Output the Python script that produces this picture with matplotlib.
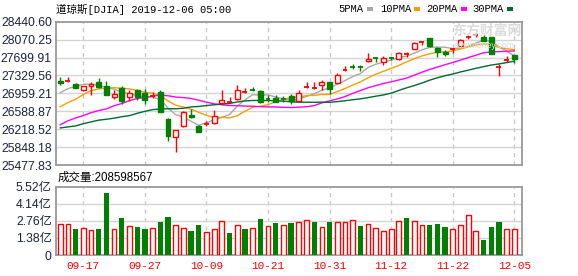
import matplotlib
matplotlib.use('Agg')
import matplotlib.pyplot as plt
import numpy as np
from matplotlib.patches import Rectangle

# ---------------- data ----------------
dates = ['09-12', '09-13', '09-16', '09-17', '09-18', '09-19', '09-20', '09-23', '09-24', '09-25',
         '09-26', '09-27', '09-30', '10-01', '10-02', '10-03', '10-04', '10-07', '10-08', '10-09',
         '10-10', '10-11', '10-14', '10-15', '10-16', '10-17', '10-18', '10-21', '10-22', '10-23',
         '10-24', '10-25', '10-28', '10-29', '10-30', '10-31', '11-01', '11-04', '11-05', '11-06',
         '11-07', '11-08', '11-11', '11-12', '11-13', '11-14', '11-15', '11-18', '11-19', '11-20',
         '11-21', '11-22', '11-25', '11-26', '11-27', '11-29', '12-02', '12-03', '12-04', '12-05']

opens = [27215, 27210, 27150, 27030, 27110, 27199, 27103, 26880, 27069, 26884,
         27021, 26960, 26895, 26980, 26438, 26060, 26290, 26505, 26294, 26325,
         26349, 26755, 26775, 26845, 26990, 27045, 27014, 26840, 26870, 26845,
         26897, 26808, 27080, 27060, 27131, 27192, 27172, 27440, 27505, 27505,
         27618, 27692, 27604, 27700, 27666, 27775, 27878, 28025, 28095, 27892,
         27812, 27860, 27947, 28110, 28155, 28132, 28118, 27490, 27640, 27748]
highs = [27306, 27290, 27180, 27120, 27190, 27275, 27220, 27020, 27103, 27035,
         27050, 27040, 26990, 27030, 26445, 26210, 26590, 26640, 26310, 26385,
         26623, 27035, 26880, 27130, 27060, 27100, 27035, 26920, 26925, 26910,
         26950, 27035, 27186, 27186, 27240, 27200, 27378, 27515, 27560, 27550,
         27789, 27700, 27740, 27705, 27815, 27815, 28020, 28040, 28110, 27910,
         27850, 27905, 28090, 28165, 28215, 28165, 28132, 27560, 27735, 27755]
lows = [27125, 27200, 27060, 27010, 26915, 27080, 26930, 26850, 26740, 26800,
        26820, 26740, 26860, 26565, 25974, 25743, 26270, 26440, 26150, 26280,
        26330, 26745, 26770, 26830, 26970, 27000, 26760, 26790, 26780, 26775,
        26745, 26795, 27075, 27055, 27035, 26955, 27165, 27430, 27460, 27430,
        27610, 27600, 27550, 27640, 27650, 27720, 27870, 27960, 27915, 27710,
        27740, 27790, 27940, 28080, 28120, 28040, 27775, 27325, 27600, 27597]
closes = [27182.45, 27219.52, 27076.82, 27110.80, 27147.08, 27094.79, 26935.07, 26949.99, 26807.77, 26970.71,
          26891.12, 26820.25, 26916.83, 26573.04, 26078.62, 26201.04, 26573.72, 26478.02, 26164.04, 26346.01,
          26496.67, 26816.59, 26787.36, 27024.80, 26999.92, 27025.88, 26770.20, 26827.64, 26788.10, 26833.95,
          26805.53, 26958.06, 27090.72, 27071.42, 27186.69, 27046.23, 27347.36, 27462.11, 27492.63, 27492.56,
          27674.80, 27681.24, 27691.49, 27691.49, 27783.59, 27781.96, 28004.89, 28036.22, 27934.02, 27821.09,
          27766.29, 27875.62, 28066.47, 28121.68, 28164.00, 28051.41, 27783.04, 27502.81, 27649.78, 27677.79]

# closes of the 29 sessions before the window (needed for the moving averages)
prior_closes = [26583.42, 26485.01, 25717.74, 26029.52, 26007.07, 26378.19, 26287.44, 25896.44, 26279.91,
                25479.42, 25579.39, 25886.01, 26135.79, 25962.44, 26202.73, 26252.24, 25628.90, 25898.83,
                25777.90, 26036.10, 26362.25, 26403.28, 26118.02, 26355.47, 26728.15, 26797.46, 26835.51,
                26909.43, 27137.04]

# volume in units of 1e8 (亿)
volumes = [2.52, 2.52, 2.13, 2.21, 2.05, 2.13, 5.05, 2.13, 3.02, 2.37,
           2.29, 2.13, 2.21, 2.68, 3.08, 2.45, 2.21, 1.97, 2.45, 1.89,
           2.13, 2.76, 1.76, 2.45, 2.13, 2.21, 2.92, 2.37, 2.60, 2.45,
           2.55, 2.66, 2.81, 2.68, 2.29, 2.68, 2.66, 2.66, 2.81, 2.37,
           2.52, 2.18, 1.95, 2.10, 2.73, 3.00, 2.73, 2.45, 2.45, 2.52,
           2.29, 2.10, 2.45, 3.23, 1.95, 1.18, 2.29, 2.68, 2.10, 2.086]
vol_up = [1, 1, 0, 1, 1, 0, 0, 1, 0, 1,
          0, 0, 1, 0, 0, 1, 1, 0, 0, 1,
          1, 1, 0, 1, 0, 1, 0, 1, 0, 1,
          0, 1, 1, 0, 1, 0, 1, 1, 1, 0,
          1, 1, 1, 1, 1, 0, 1, 1, 0, 0,
          0, 1, 1, 1, 1, 0, 0, 0, 1, 1]

ma_periods = [5, 10, 20, 30]
ma_names = ['5PMA', '10PMA', '20PMA', '30PMA']
ma_colors = ['#a8a8a8', '#f5a000', '#ff00ff', '#006a30']

price_ticks = [25477.83, 25848.18, 26218.52, 26588.87, 26959.21, 27329.56, 27699.91, 28070.25, 28440.60]
vol_ticks = [0, 1.38, 2.76, 4.14, 5.52]
vol_tick_labels = ['0', '1.38亿', '2.76亿', '4.14亿', '5.52亿']
date_tick_idx = [3, 11, 19, 27, 35, 43, 51, 59]

title_text = '道琼斯[DJIA] 2019-12-06 05:00'
vol_title = '成交量:208598567'

# ---------------- figure ----------------
W, H = 578, 276
fig = plt.figure(figsize=(W / 100, H / 100), dpi=100)
fig.patch.set_facecolor('white')

RED = '#ff0000'
GREEN = '#008000'
GRID = '#d4d4d4'
SPINE = '#999999'
TXT = '#1c2340'


def px_axes(l, t, r, b):
    return fig.add_axes([l / W, 1 - b / H, (r - l) / W, (b - t) / H])


axp = px_axes(56, 21.7, 522, 165)
axv = px_axes(56, 186.7, 522, 255)

n = len(closes)
x = np.arange(n)
xlim = (-0.55, 60.0)

for ax in (axp, axv):
    ax.set_xlim(*xlim)
    for s in ax.spines.values():
        s.set_color(SPINE)
        s.set_linewidth(1.3)
    ax.set_xticks([])
    for i in date_tick_idx:
        ax.axvline(i, color='#c8c8c8', lw=1, ls=(0, (3, 3)), zorder=0)

# price panel
axp.set_ylim(price_ticks[0], price_ticks[-1])
axp.set_yticks(price_ticks)
axp.set_yticklabels(['%.2f' % v for v in price_ticks])
for v in price_ticks[1:-1]:
    axp.axhline(v, color=GRID, lw=1, zorder=0)
axp.tick_params(axis='y', length=0, pad=3, labelsize=8.8, labelcolor=TXT)
for lab in axp.get_yticklabels():
    lab.set_family(['Liberation Sans', 'DejaVu Sans'])

# watermark
fig.text(452 / W, 1 - 31 / H, '东方财富网', fontsize=10, color='#dcdcdc',
         family=['Noto Sans CJK SC'], ha='left', va='center', zorder=0, fontweight='bold')
fig.text(454 / W, 1 - 45 / H, 'eastmoney.com', fontsize=6.3, color='#dcdcdc',
         family=['Liberation Sans'], ha='left', va='center', zorder=0)

# moving averages
allc = np.array(prior_closes + closes)
off = len(prior_closes)
for p, c in zip(ma_periods, ma_colors):
    ma = np.array([allc[off + i - p + 1: off + i + 1].mean() for i in range(n)])
    axp.plot(x, ma, color=c, lw=1.0, zorder=2)

# candles
bw = 0.64
for i in range(n):
    o, h, l, c = opens[i], highs[i], lows[i], closes[i]
    up = c >= o
    col = RED if up else GREEN
    axp.plot([i, i], [l, h], color=col, lw=1.0, zorder=3, solid_capstyle='butt')
    lo, hi = min(o, c), max(o, c)
    if hi - lo < 25:
        axp.plot([i - bw / 2, i + bw / 2], [(lo + hi) / 2] * 2, color=col, lw=1.3, zorder=4,
                 solid_capstyle='butt')
    else:
        axp.add_patch(Rectangle((i - bw / 2, lo), bw, hi - lo,
                                facecolor='white' if up else GREEN,
                                edgecolor=col, lw=1.0, zorder=4))

# volume panel
axv.set_ylim(0, 5.52)
axv.set_yticks(vol_ticks)
axv.set_yticklabels(vol_tick_labels)
for v in vol_ticks[1:-1]:
    axv.axhline(v, color=GRID, lw=1, zorder=0)
axv.tick_params(axis='y', length=0, pad=3, labelsize=8.8, labelcolor=TXT)
for lab in axv.get_yticklabels():
    lab.set_family(['Liberation Sans', 'Noto Sans CJK SC'])

vbw = 0.62
for i in range(n):
    if vol_up[i]:
        axv.bar(i, volumes[i], width=vbw, facecolor='white', edgecolor=RED, lw=1.0, zorder=3)
    else:
        axv.bar(i, volumes[i], width=vbw + 0.08, facecolor=GREEN, edgecolor=GREEN, lw=0.0, zorder=3)

axv.set_xticks(date_tick_idx)
axv.set_xticklabels([dates[i] for i in date_tick_idx])
axv.tick_params(axis='x', length=0, pad=4, labelsize=8, labelcolor=RED)
for lab in axv.get_xticklabels():
    lab.set_family(['Liberation Mono', 'DejaVu Sans Mono'])

# titles
fig.text(56 / W, 1 - 9 / H, title_text, fontsize=7.6, color='black',
         family=['Liberation Mono', 'Noto Sans CJK SC'], ha='left', va='center')
fig.text(58 / W, 1 - 178 / H, vol_title, fontsize=8.3, color='black',
         family=['Liberation Sans', 'Noto Sans CJK SC'], ha='left', va='center')

# legend
leg_text_x = [338, 380, 426, 472]
leg_mark_x = [367, 414, 461, 507]
for name, c, tx, mx in zip(ma_names, ma_colors, leg_text_x, leg_mark_x):
    fig.text(tx / W, 1 - 9 / H, name, fontsize=7.6, color='black',
             family=['Liberation Mono'], ha='left', va='center')
    fig.add_artist(Rectangle((mx / W, 1 - 11 / H), 6 / W, 4 / H, transform=fig.transFigure,
                             facecolor=c, edgecolor='none'))

fig.savefig('out.png', dpi=100, facecolor='white')
